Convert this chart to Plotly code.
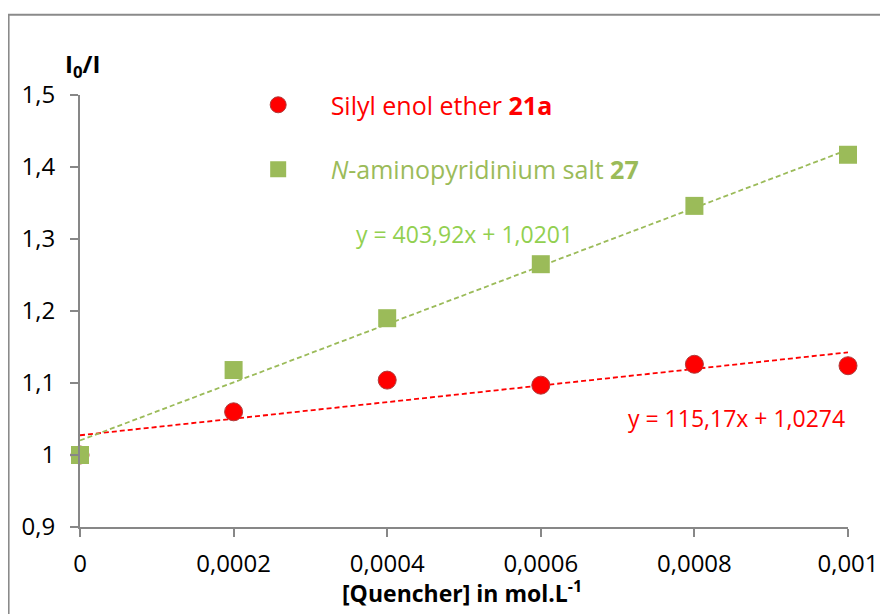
import plotly.graph_objects as go

# Data
quencher = [0, 0.0002, 0.0004, 0.0006, 0.0008, 0.001]
silyl = [1.0, 1.060, 1.104, 1.097, 1.126, 1.124]
amino = [1.0, 1.118, 1.190, 1.265, 1.346, 1.417]
fit_silyl = (115.17, 1.0274)
fit_amino = (403.92, 1.0201)
x_ticks = [0, 0.0002, 0.0004, 0.0006, 0.0008, 0.001]
x_ticklabels = ["0", "0,0002", "0,0004", "0,0006", "0,0008", "0,001"]
y_ticks = [0.9, 1.0, 1.1, 1.2, 1.3, 1.4, 1.5]
y_ticklabels = ["0,9", "1", "1,1", "1,2", "1,3", "1,4", "1,5"]

RED = "#FF0000"
GREEN = "#9BBB59"
GREEN_TXT = "#92D050"
AXIS = "#878787"
FONT = "Open Sans"

fit_x = [quencher[0], quencher[-1]]
fig = go.Figure()
fig.add_trace(go.Scatter(x=fit_x, y=[fit_silyl[0] * v + fit_silyl[1] for v in fit_x],
                         mode="lines", line=dict(color=RED, width=1.8, dash="5px,3px"),
                         showlegend=False, hoverinfo="skip"))
fig.add_trace(go.Scatter(x=fit_x, y=[fit_amino[0] * v + fit_amino[1] for v in fit_x],
                         mode="lines", line=dict(color=GREEN, width=1.8, dash="5px,3px"),
                         showlegend=False, hoverinfo="skip"))
fig.add_trace(go.Scatter(x=quencher, y=silyl, mode="markers",
                         name="<span style='color:#FF0000'>     Silyl enol ether <b>21a</b></span>",
                         legendgroup="a",
                         marker=dict(symbol="circle", size=18, color=RED,
                                     line=dict(color="#B03A3A", width=1))))
fig.add_trace(go.Scatter(x=quencher, y=amino, mode="markers",
                         name="<span style='color:#9BBB59'>     <i>N</i>-aminopyridinium salt <b>27</b></span>",
                         legendgroup="b",
                         marker=dict(symbol="square", size=18, color=GREEN,
                                     line=dict(color=GREEN, width=0))))

fig.update_layout(
    width=880, height=606,
    margin=dict(l=72, r=40, t=87, b=87, autoexpand=False),
    paper_bgcolor="white", plot_bgcolor="white",
    font=dict(family=FONT, size=20, color="black"),
    legend=dict(x=0.232, y=1.03, xanchor="left", yanchor="top",
                tracegroupgap=29, font=dict(size=25), bgcolor="rgba(0,0,0,0)"),
    xaxis=dict(range=[0, 0.001], tickvals=x_ticks, ticktext=x_ticklabels, automargin=False,
               showgrid=False, zeroline=False, showline=True, linecolor=AXIS, linewidth=2,
               ticks="outside", ticklen=8, tickcolor=AXIS, tickwidth=2,
               tickfont=dict(size=24), ticklabelstandoff=6),
    yaxis=dict(range=[0.9, 1.5], tickvals=y_ticks, ticktext=y_ticklabels, automargin=False,
               showgrid=False, zeroline=False, showline=True, linecolor=AXIS, linewidth=2,
               ticks="outside", ticklen=8, tickcolor=AXIS, tickwidth=2,
               tickfont=dict(size=24), ticklabelstandoff=10),
    showlegend=True,
)
fig.update_traces(cliponaxis=False)

fig.add_annotation(x=0.000501, y=1.307, xref="x", yref="y", xanchor="center", yanchor="middle",
                   text="y = 403,92x + 1,0201", showarrow=False,
                   font=dict(color=GREEN_TXT, size=23))
fig.add_annotation(x=0.000999, y=1.051, xref="x", yref="y", xanchor="right", yanchor="middle",
                   text="y = 115,17x + 1,0274", showarrow=False,
                   font=dict(color=RED, size=23))
fig.add_annotation(x=-0.022, y=1.07, xref="paper", yref="paper", xanchor="left", yanchor="middle",
                   text="<b>I<sub>0</sub>/I</b>", showarrow=False,
                   font=dict(size=24))
fig.add_annotation(x=0.498, y=-0.15, xref="paper", yref="paper", xanchor="center", yanchor="middle",
                   text="<b>[Quencher] in mol.L<sup>-1</sup></b>", showarrow=False,
                   font=dict(size=23))
fig.add_shape(type="rect", xref="paper", yref="paper",
              x0=-0.093, x1=1.2, y0=-0.3, y1=1.186,
              line=dict(color="#8A8A8A", width=2))

fig.write_html("out.html")
